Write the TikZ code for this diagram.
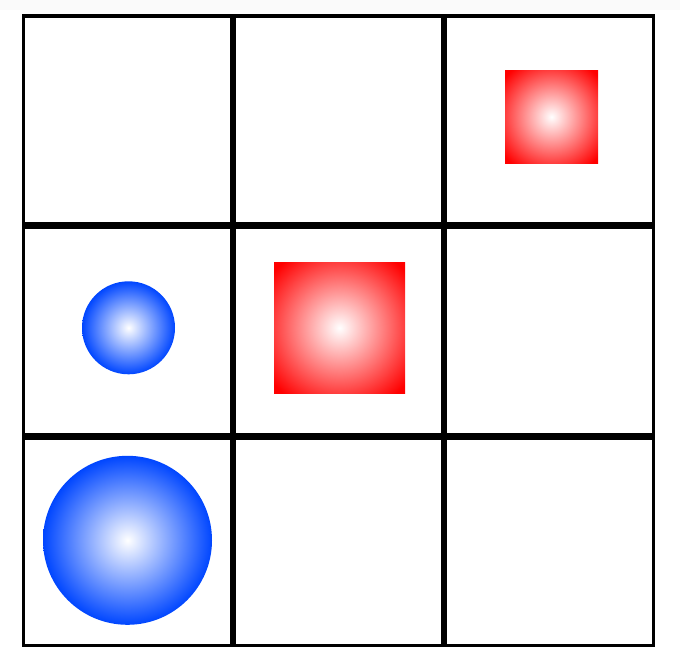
\documentclass[tikz,border=0pt]{standalone}
\usetikzlibrary{positioning}
\definecolor{ballblue}{RGB}{0,70,255}
\definecolor{tilered}{RGB}{255,0,0}
\pgfdeclareradialshading{glowblue}{\pgfpoint{0bp}{0bp}}{color(0bp)=(white); color(25bp)=(ballblue); color(50bp)=(ballblue)}
\pgfdeclareradialshading{glowred}{\pgfpoint{0bp}{0bp}}{color(0bp)=(white); color(33bp)=(tilered); color(50bp)=(tilered)}
\tikzset{
  cell/.style={draw,line width=3.3pt,minimum size=207.7pt,inner sep=0pt},
  ball/.style={circle,inner sep=0pt,minimum size=#1,shade,shading=glowblue},
  tile/.style={rectangle,inner sep=0pt,minimum size=#1,shade,shading=glowred},
}
\begin{document}
\begin{tikzpicture}[x=1pt,y=-1pt]
  \useasboundingbox (0,0) rectangle (680,660);
  \fill[gray!4] (0,0) rectangle (680,10);
  % the 3x3 board
  \foreach \r in {1,2,3}
    \foreach \c in {1,2,3}
      \node[cell] (c-\r-\c) at ({22+211*(\c-0.5)},{14.3+211*(\r-0.5)}) {};
  % pieces
  \node[tile=93pt,xshift=2pt,yshift=3pt] (tilesmall) at (c-1-3) {};
  \node[tile=131pt,xshift=1pt,yshift=3pt] (tilebig) at (c-2-2) {};
  \node[ball=93pt,xshift=1pt,yshift=3pt] (ballsmall) at (c-2-1) {};
  \node[ball=169pt,yshift=1.5pt] (ballbig) at (c-3-1) {};
\end{tikzpicture}
\end{document}
